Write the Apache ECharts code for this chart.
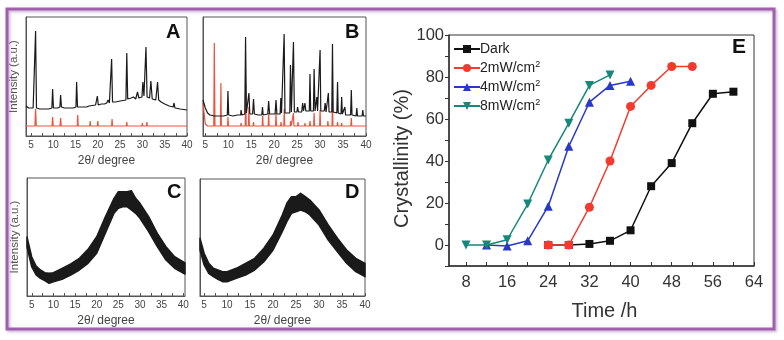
<!DOCTYPE html>
<html><head><meta charset="utf-8">
<script src="https://cdn.jsdelivr.net/npm/echarts@6/dist/echarts.min.js"></script>
<style>html,body{margin:0;padding:0;background:#fff}#c{width:784px;height:340px}</style>
</head><body><div id="c"></div><script>
// ---------- tick labels ----------
const xrdLabels = [5,10,15,20,25,30,35,40];
const xrdTicks = [5,7.5,10,12.5,15,17.5,20,22.5,25,27.5,30,32.5,35,37.5,40];
const timeLabels = [8,16,24,32,40,48,56,64];
const timeTicks = [8,12,16,20,24,28,32,36,40,44,48,52,56,60,64];
const crystLabels = [0,20,40,60,80,100];
const crystTicks = [-10,0,10,20,30,40,50,60,70,80,90,100];

// ---------- panel E data ----------
const seriesNames = ['Dark','2mW/cm2','4mW/cm2','8mW/cm2'];
const timeDark = [24,28,32,36,40,44,48,52,56,60];
const valDark  = [0,0,0.5,2,7,28,39,58,72,73];
const time2 = [24,28,32,36,40,44,48,52];
const val2  = [0,0,18,40,66,76,85,85];
const time4 = [12,16,20,24,28,32,36,40];
const val4  = [0,-0.5,2,18.5,47,68,76,78];
const time8 = [8,12,16,20,24,28,32,36];
const val8  = [0,0,2.5,19.5,40.5,58,76,81];

// ---------- panel A (XRD) ----------
const aBlack = [[3.9,30],[4.5,28],[5.5,28],[5.9,29],[6.05,105],[6.25,28],[7,27],[8,27],[9,27],[9.7,28],[9.87,47],[10.05,28],[11,28],[11.5,29],[11.66,41],[11.85,29],[12.5,28],[13.5,28],[14.5,28],[15.1,29],[15.25,54],[15.45,29],[16.5,29],[17.5,29],[18.0,30],[18.2,31],[18.4,30],[19.5,31],[19.9,40],[20.1,31],[20.8,32],[21.2,33],[21.5,32],[22.0,33],[22.3,36],[22.6,33],[22.95,34],[23.1,77],[23.3,34],[24,34],[25,35],[26.3,36],[26.5,83],[26.7,37],[27.5,38],[28,39],[28.5,37],[28.9,44],[29.2,38],[29.9,39],[30.1,54],[30.35,40],[30.6,40],[30.8,89],[31.05,39],[31.6,38],[31.9,55],[32.2,37],[33,36],[33.4,54],[33.65,36],[33.9,37],[34.2,34],[35,32],[36,30],[36.9,29],[37.1,33],[37.3,28],[38.5,27],[40,26]];
const aRed = [[3.9,10],[5.9,10],[6.05,27],[6.2,10],[9.75,10],[9.87,19],[10,10],[11.55,10],[11.66,18],[11.8,10],[15.4,10],[15.5,21],[15.6,10],[18.2,10],[18.3,15],[18.4,10],[19.9,10],[20,15],[20.1,10],[23.1,10],[23.2,17],[23.3,10],[26.4,10],[26.5,14],[26.6,10],[29.9,10],[30,13],[30.1,10],[30.9,10],[31,14],[31.1,10],[33.9,10],[34,12],[34.1,10],[37.4,10],[37.5,11],[37.6,10],[40,10]];

// ---------- panel B (XRD) ----------
const bBlack = [[4.5,36],[5,28],[5.5,23],[6,21],[7,20],[8,20],[9,20],[9.8,21],[9.93,45],[10.1,21],[11,20],[12,21],[12.7,21],[12.8,26],[12.95,21],[13.6,22],[13.77,99],[13.95,23],[14.3,23],[14.5,43],[14.7,22],[15.3,22],[15.5,37],[15.7,22],[16.5,21],[17.3,21],[17.46,29],[17.6,21],[18.6,22],[18.8,35],[19,22],[20.2,22],[20.4,36],[20.6,22],[21.3,22],[21.45,38],[21.6,23],[22.0,23],[22.17,102],[22.35,23],[23.4,23],[23.55,71],[23.75,24],[24.05,24],[24.2,94],[24.4,24],[24.95,24],[25.1,29],[25.3,24],[26.0,24],[26.2,33],[26.4,25],[26.55,25],[26.7,33],[26.9,25],[27.65,25],[27.8,62],[27.95,25],[28.55,25],[28.7,67],[28.9,25],[29.15,25],[29.3,39],[29.45,25],[29.85,25],[30.0,86],[30.15,25],[30.9,25],[31.1,33],[31.3,24],[31.65,24],[31.8,43],[31.95,24],[32.55,24],[32.7,92],[32.85,24],[33.65,23],[33.8,54],[33.95,23],[34.55,22],[34.7,39],[34.85,22],[35.25,22],[35.4,29],[35.55,21],[36.65,21],[36.8,46],[36.95,21],[37.85,20],[38,28],[38.15,20],[39.15,20],[39.3,26],[39.45,20],[40,20]];
const bRed = [[4.5,33],[4.8,33],[5.0,12],[5.5,10],[6.85,10],[6.96,93],[7.1,10],[8.3,10],[8.4,53],[8.5,10],[9.85,10],[9.93,19],[10.05,10],[12.7,10],[12.8,13],[12.9,10],[13.7,10],[13.8,53],[13.9,10],[14.4,10],[14.5,29],[14.6,10],[15.4,10],[15.5,14],[15.6,10],[17.4,10],[17.5,20],[17.6,10],[18.7,10],[18.8,23],[18.9,10],[20.3,10],[20.4,23],[20.5,10],[21.4,10],[21.5,14],[21.6,10],[22.1,10],[22.2,27],[22.3,10],[23.5,10],[23.6,15],[23.7,10],[24.1,10],[24.2,23],[24.3,10],[25.1,10],[25.2,14],[25.3,10],[26.6,10],[26.7,13],[26.8,10],[27.7,10],[27.8,15],[27.9,10],[28.6,10],[28.7,23],[28.8,10],[29.9,10],[30,26],[30.1,10],[31.6,10],[31.7,15],[31.8,10],[32.6,10],[32.7,34],[32.8,10],[33.7,10],[33.8,14],[33.9,10],[34.6,10],[34.7,13],[34.8,10],[36.7,10],[36.8,18],[36.9,10],[38,10],[38.1,12],[38.2,10],[40,10]];

// ---------- panels C, D (amorphous band: lower / upper envelope) ----------
const cAngle = [3.9,5,6,7,8,9,10,12,14,16,18,20,22,24,25,26,27,28,29,30,32,34,36,38,40.4];
const cLow   = [49,29,21,17.7,15.3,12.7,14.3,16.7,21,26,32.7,42.7,62.7,82.7,87.7,89.3,89.3,86,82.7,77.7,64.3,49.3,36,27.7,22];
const cHigh  = [59,39,30,26,23.3,22.7,23.3,27.7,32,37.7,46.7,59.3,79.3,97.7,104.3,104.3,104.3,105.3,97.7,92.7,79.3,62.7,49.3,39.3,33];
const dAngle = [4.1,5,6,7,8,9,10,12,14,16,18,20,22,23,24,25,26,27,28,30,32,34,36,38,40];
const dLow   = [46,31,22.7,19.3,16.7,14.3,14.3,17.7,21,26,34.3,46,64.3,74.3,82.7,84.3,86,84.3,81,71,56,44.3,32.7,24.3,19.3];
const dHigh  = [57.7,42.7,32.7,27.7,26,24.3,24.3,27.7,32.7,37.7,47.7,61,81,92.7,99.3,99.3,102.7,99.3,96,86,71,57.7,46,37.7,32.7];

const BLK = '#1a1a1a', RED = '#f0503c';
const AX = '#555';
const TXT = '#444';

function xrdX(gi, min, max) {
  return {
    type: 'value', gridIndex: gi, min: min, max: max,
    axisLine: {show: true, onZero: false, lineStyle: {color: AX}},
    axisTick: {show: true, inside: true, length: 3, customValues: xrdTicks, lineStyle: {color: AX}},
    axisLabel: {show: true, customValues: xrdLabels, fontSize: 10, color: TXT, margin: 4, fontFamily: 'Liberation Sans'},
    splitLine: {show: false},
    name: '2θ/ degree', nameLocation: 'middle', nameGap: 19,
    nameTextStyle: {fontSize: 12, color: TXT, fontFamily: 'Liberation Sans'}
  };
}
function xrdY(gi, max, withName) {
  return {
    type: 'value', gridIndex: gi, min: 0, max: max,
    axisLine: {show: true, lineStyle: {color: AX}},
    axisTick: {show: false}, axisLabel: {show: false}, splitLine: {show: false},
    name: withName ? 'Intensity (a.u.)' : '', nameLocation: 'middle', nameGap: 6,
    nameTextStyle: {fontSize: 11.5, color: '#555', fontFamily: 'Liberation Sans'}
  };
}
function lineS(gi, data, color, w) {
  return {type: 'line', xAxisIndex: gi, yAxisIndex: gi, data: data, showSymbol: false, symbol: 'none',
    lineStyle: {color: color, width: w}, silent: true, animation: false};
}
function band(gi, ang, lo, hi) {
  return {
    type: 'custom', xAxisIndex: gi, yAxisIndex: gi, silent: true, animation: false,
    data: ang.map((a, i) => [a, lo[i], hi[i]]),
    encode: {x: 0, y: [1, 2]},
    renderItem: function (params, api) {
      if (params.dataIndex !== 0) return null;
      const top = ang.map((a, i) => api.coord([a, hi[i]]));
      const bot = ang.map((a, i) => api.coord([a, lo[i]])).reverse();
      return {type: 'polygon', shape: {points: top.concat(bot)},
        style: {fill: BLK, stroke: BLK, lineWidth: 1.5, lineJoin: 'round'}};
    }
  };
}
function pts(t, v) { return t.map((x, i) => [x, v[i]]); }

const gridBase = {show: true, borderColor: AX, borderWidth: 1, containLabel: false};
const eColors = ['#111111', '#f23b2e', '#2a38c9', '#15877b'];
const eSymbols = ['rect', 'circle', 'triangle', 'triangle'];
const eRot = [0, 0, 0, 180];
const eData = [pts(timeDark, valDark), pts(time2, val2), pts(time4, val4), pts(time8, val8)];

const eSeries = seriesNames.map((n, i) => ({
  type: 'line', name: n, xAxisIndex: 4, yAxisIndex: 4, data: eData[i],
  symbol: eSymbols[i], symbolRotate: eRot[i], symbolSize: i === 0 ? 8 : 9,
  lineStyle: {color: eColors[i], width: 1.5}, itemStyle: {color: eColors[i]},
  animation: false, z: 3 + i
}));
// first two 2mW points drawn as squares in the reference
eSeries.push({type: 'scatter', name: 'overlay', xAxisIndex: 4, yAxisIndex: 4,
  data: pts(time2.slice(0, 2), val2.slice(0, 2)), symbol: 'rect', symbolSize: 8,
  itemStyle: {color: eColors[1]}, animation: false, z: 10});

const option = {
  backgroundColor: '#fff',
  animation: false,
  textStyle: {fontFamily: 'Liberation Sans'},
  grid: [
    Object.assign({left: 26, top: 17, width: 161, height: 119}, gridBase),
    Object.assign({left: 203, top: 17, width: 163, height: 119}, gridBase),
    Object.assign({left: 27, top: 178, width: 158, height: 118}, gridBase),
    Object.assign({left: 200, top: 179, width: 165, height: 117}, gridBase),
    Object.assign({left: 449, top: 35, width: 305, height: 231}, gridBase, {borderColor: '#333'})
  ],
  xAxis: [
    xrdX(0, 3.9, 40), xrdX(1, 4.5, 40), xrdX(2, 3.9, 40.4), xrdX(3, 4.1, 40),
    {type: 'value', gridIndex: 4, min: 4.7, max: 64,
     axisLine: {show: true, onZero: false, lineStyle: {color: '#333', width: 1.5}},
     axisTick: {show: true, inside: true, length: 4, customValues: timeTicks, lineStyle: {color: '#333'}},
     axisLabel: {customValues: timeLabels, fontSize: 16.5, color: '#333', margin: 8},
     splitLine: {show: false},
     name: 'Time /h', nameLocation: 'middle', nameGap: 35,
     nameTextStyle: {fontSize: 20, color: '#333', padding: [0, 0, 0, 6]}}
  ],
  yAxis: [
    xrdY(0, 119, true), xrdY(1, 119, false), xrdY(2, 118, true), xrdY(3, 117, false),
    {type: 'value', gridIndex: 4, min: -10, max: 100,
     axisLine: {show: true, lineStyle: {color: '#333', width: 1.5}},
     axisTick: {show: true, inside: false, length: 4, customValues: crystTicks, lineStyle: {color: '#333'}},
     axisLabel: {customValues: crystLabels, fontSize: 16.5, color: '#333', margin: 5},
     splitLine: {show: false},
     name: 'Crystallinity (%)', nameLocation: 'middle', nameGap: 36,
     nameTextStyle: {fontSize: 20, color: '#333', padding: [0, 16, 0, 0]}}
  ],
  legend: {
    data: seriesNames, left: 448, top: 37, orient: 'vertical', itemGap: 4,
    itemWidth: 26, itemHeight: 10,
    textStyle: {fontSize: 14, color: '#222', padding: [0, 0, 0, -5],
      rich: {sup: {fontSize: 9, color: '#222', padding: [0, 0, 7, 0]}}},
    formatter: n => n.replace(/cm2$/, 'cm{sup|2}')
  },
  series: [
    lineS(0, aBlack, BLK, 1.2), lineS(0, aRed, RED, 1.2),
    lineS(1, bRed, RED, 1.2), lineS(1, bBlack, BLK, 1.2),
    band(2, cAngle, cLow, cHigh),
    band(3, dAngle, dLow, dHigh),
    ...eSeries
  ],
  graphic: [
    {type: 'rect', shape: {x: 7, y: 9, width: 767, height: 320}, z: 100,
     style: {fill: 'none', stroke: '#a060ad', lineWidth: 3, shadowBlur: 3, shadowColor: 'rgba(140,80,160,0.45)', shadowOffsetX: 1.5, shadowOffsetY: 1.5}},
    {type: 'text', left: 166, top: 22, style: {text: 'A', font: 'bold 20px "Liberation Sans"', fill: '#111'}},
    {type: 'text', left: 345, top: 22, style: {text: 'B', font: 'bold 20px "Liberation Sans"', fill: '#111'}},
    {type: 'text', left: 167, top: 182, style: {text: 'C', font: 'bold 20px "Liberation Sans"', fill: '#111'}},
    {type: 'text', left: 345, top: 182, style: {text: 'D', font: 'bold 20px "Liberation Sans"', fill: '#111'}},
    {type: 'text', left: 732, top: 37, style: {text: 'E', font: 'bold 21px "Liberation Sans"', fill: '#111'}}
  ]
};
echarts.init(document.getElementById('c'), null, {renderer: 'canvas'}).setOption(option);
</script></body></html>
